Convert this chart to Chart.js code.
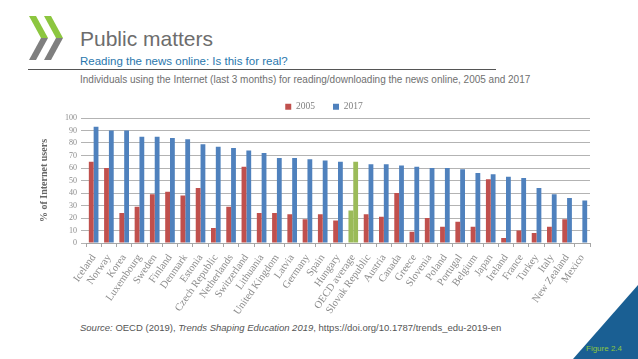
<!DOCTYPE html>
<html>
<head>
<meta charset="utf-8">
<script src="https://cdn.jsdelivr.net/npm/chart.js@4"></script>
<style>
  body { margin: 0; width: 638px; height: 359px; background: #fff; position: relative; overflow: hidden; font-family: "Liberation Sans", Arial, sans-serif; }
  .titulo { position: absolute; left: 80px; top: 27px; font-size: 21px; color: #6d6d6d; }
  .subtitulo { position: absolute; left: 80px; top: 55px; font-size: 11.5px; color: #2a77ad; }
  .linea { position: absolute; left: 28px; top: 69px; width: 468px; height: 1px; background: #555; }
  .descripcion { position: absolute; left: 80px; top: 74px; font-size: 10px; color: #707070; }
  .fuente { position: absolute; left: 80px; top: 322px; font-size: 9.5px; color: #555; }
  .grafico-box { position: absolute; left: 36px; top: 84px; width: 565px; height: 234px; }
  .figura { position: absolute; left: 586px; top: 344px; font-size: 8px; color: #8cc63f; }
  svg { position: absolute; left: 0; top: 0; }
</style>
</head>
<body>
<svg width="638" height="359">
  <!-- logo -->
  <polygon points="29,16 36,16 48,38 41,38" fill="#8cc63f"/>
  <polygon points="41,38 48,38 36,60 29,60" fill="#7f7f7f"/>
  <polygon points="44,16 51,16 63,38 56,38" fill="#8cc63f"/>
  <polygon points="56,38 63,38 51,60 44,60" fill="#7f7f7f"/>
  <!-- esquina -->
  <polygon points="638,285 638,359 573,359" fill="#1a5f93"/>
</svg>
<div class="titulo">Public matters</div>
<div class="subtitulo">Reading the news online: Is this for real?</div>
<div class="linea"></div>
<div class="descripcion">Individuals using the Internet (last 3 months) for reading/downloading the news online, 2005 and 2017</div>
<div class="grafico-box"><canvas id="grafico"></canvas></div>
<div class="fuente"><i>Source:</i> OECD (2019), <i>Trends Shaping Education 2019</i>, https://doi.org/10.1787/trends_edu-2019-en</div>
<div class="figura">Figure 2.4</div>

<script>
const paises = ['Iceland', 'Norway', 'Korea', 'Luxembourg', 'Sweden', 'Finland', 'Denmark', 'Estonia',
  'Czech Republic', 'Netherlands', 'Switzerland', 'Lithuania', 'United Kingdom', 'Latvia', 'Germany',
  'Spain', 'Hungary', 'OECD average', 'Slovak Republic', 'Austria', 'Canada', 'Greece', 'Slovenia',
  'Poland', 'Portugal', 'Belgium', 'Japan', 'Ireland', 'France', 'Turkey', 'Italy', 'New Zealand', 'Mexico']

const votos2005 = [65, 60, 24, 29, 39, 41, 38, 44, 12, 29, 61, 24, 24, 23, 19, 23, 18, 26, 23, 21, 40, 9,
  20, 13, 17, 13, 51, 4, 10, 8, 13, 19, null]

const votos2017 = [93, 90, 90, 85, 85, 84, 83, 79, 77, 76, 74, 72, 68, 68, 67, 66, 65, 65, 63, 63, 62, 61,
  60, 60, 59, 56, 55, 53, 52, 44, 39, 36, 34]

const ticksY = [0, 10, 20, 30, 40, 50, 60, 70, 80, 90, 100]

// Colores: el promedio OCDE va en verde
const rojo = '#c0504d'
const azul = '#4f81bd'
const verde = '#9bbb59'
const colores2005 = paises.map(p => p === 'OECD average' ? verde : rojo)
const colores2017 = paises.map(p => p === 'OECD average' ? verde : azul)

const serif = '"Liberation Serif", "DejaVu Serif", serif'
const ctx = document.getElementById('grafico')

// Corre la leyenda un poco a la derecha, como en el original
const moverLeyenda = {
  id: 'moverLeyenda',
  afterLayout(chart) {
    chart.legend.left += 11
    chart.legend.right += 11
  }
}

new Chart(ctx, {
  type: 'bar',
  data: {
    labels: paises,
    datasets: [
      { label: '2005', data: votos2005, backgroundColor: colores2005, categoryPercentage: 0.63, barPercentage: 1 },
      { label: '2017', data: votos2017, backgroundColor: colores2017, categoryPercentage: 0.63, barPercentage: 1 }
    ]
  },
  plugins: [moverLeyenda],
  options: {
    responsive: true,
    maintainAspectRatio: false,
    animation: false,
    layout: { padding: { right: 11, top: 0, bottom: 0 } },
    plugins: {
      legend: {
        maxHeight: 34,
        labels: {
          boxWidth: 6, boxHeight: 6, padding: 18,
          color: '#808080', font: { family: serif, size: 9.5 },
          generateLabels: () => [
            { text: '2005', fillStyle: rojo, strokeStyle: rojo, lineWidth: 0, datasetIndex: 0, fontColor: '#808080' },
            { text: '2017', fillStyle: azul, strokeStyle: azul, lineWidth: 0, datasetIndex: 1, fontColor: '#808080' }
          ]
        }
      },
      tooltip: { enabled: false }
    },
    scales: {
      x: {
        grid: { display: true, drawOnChartArea: false, tickLength: 4, color: '#a6a6a6' },
        border: { color: '#a6a6a6' },
        ticks: { color: '#8c8c8c', font: { family: serif, size: 10.5 }, minRotation: 55, maxRotation: 55, autoSkip: false, padding: 5 },
        afterFit: s => { s.height = 75 }
      },
      y: {
        min: 0, max: 100,
        afterBuildTicks: s => { s.ticks = ticksY.map(v => ({ value: v })) },
        grid: { color: '#b3b3b3', tickLength: 5 },
        border: { display: false },
        ticks: { color: '#8c8c8c', font: { family: serif, size: 8 }, padding: 4, autoSkip: false },
        title: { display: true, text: '% of Internet users', color: '#666', font: { family: serif, size: 10, weight: 'bold' }, padding: 2 },
        afterFit: s => { s.width = 50 }
      }
    }
  }
})
</script>
</body>
</html>
